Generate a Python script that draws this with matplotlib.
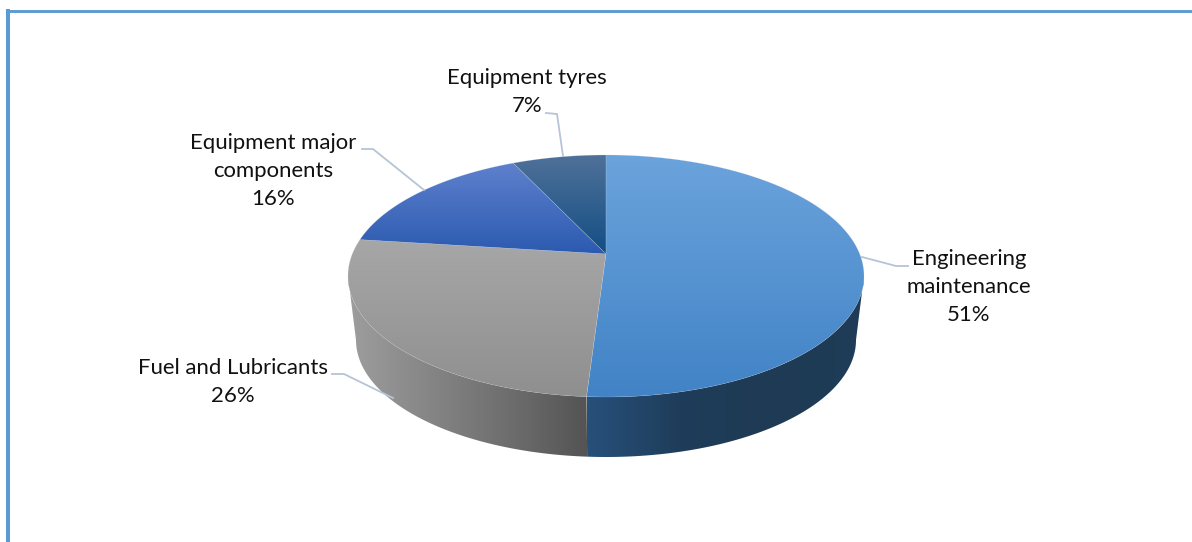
import numpy as np
import matplotlib
matplotlib.use("Agg")
import matplotlib.pyplot as plt
from matplotlib.colors import LinearSegmentedColormap
from matplotlib.patches import Polygon

categories = ["Engineering\nmaintenance", "Fuel and Lubricants", "Equipment major\ncomponents", "Equipment tyres"]
shares = [51, 26, 16, 7]
share_labels = ["51%", "26%", "16%", "7%"]

# Top-face gradients (upper edge, lower edge) and their vertical spans
top_colors = [("#6BA3DC", "#4183C6"), ("#A7A7A7", "#8F8F8F"), ("#5F82CE", "#2C5AB0"), ("#4F7199", "#134E84")]
top_spans = [(155, 397), (238, 397), (160, 254), (155, 254)]
# Wall gradients, running outwards from the rim split at the front
wall_right = ["#27507A", "#1F3D5A", "#1E3A54", "#1F3D58"]
wall_left = ["#545454", "#6E6E6E", "#868686", "#9E9E9E"]

label_xy = [(969, 287), (233, 382), (273, 171), (527, 92)]
leaders = [
    [(862, 257), (896, 266), (908, 266)],
    [(393, 398), (344, 374), (332, 374)],
    [(424, 190), (373, 149), (362, 149)],
    [(563, 156), (557, 114), (546, 113)],
]

# Perspective pie: rim ellipse, apex sitting above its centre, smaller rim below
CX, CY, RX, RY, APEX_Y = 606, 276, 258, 121, 254
BASE_CY, BASE_RX, BASE_RY = 340, 250, 117
PERSP = (2 * APEX_Y - (CY - RY) - (CY + RY)) / (CY + RY - (CY - RY))
SCALE_V = (CY - RY) * (PERSP * -1 + 1) * -1 + APEX_Y
SCALE_U = RX * np.sqrt(1 - PERSP ** 2)

plt.rcParams["font.family"] = ["Lato", "DejaVu Sans"]
fig = plt.figure(figsize=(11.92, 5.42), dpi=100, facecolor="white")
ax = fig.add_axes([0, 0, 1, 1])


def rim(a0, a1, n=240):
    # Projected circle; angles run clockwise from twelve o'clock
    t = np.radians(np.linspace(a0, a1, n))
    u, v = np.sin(t), -np.cos(t)
    w = 1 + PERSP * v
    return CX + SCALE_U * u / w, (SCALE_V * v + APEX_Y) / w


def base(x, y):
    return CX + (x - CX) * BASE_RX / RX, BASE_CY + (y - CY) * BASE_RY / RY


def gradient(colors, extent, clip, horizontal=False, zorder=2):
    cmap = LinearSegmentedColormap.from_list("g", colors)
    ramp = np.linspace(0, 1, 256)
    data = ramp[None, :] if horizontal else ramp[:, None]
    im = ax.imshow(data, cmap=cmap, extent=extent, origin="upper", aspect="auto",
                   interpolation="bilinear", zorder=zorder)
    patch = Polygon(clip, closed=True, transform=ax.transData, fc="none", ec="none")
    ax.add_patch(patch)
    im.set_clip_path(patch)


edges = np.cumsum([0] + shares) / sum(shares) * 360

# Widest point of the rim, where the visible wall begins and ends
v_side = (CY - APEX_Y) / (SCALE_V - PERSP * CY)
side = np.degrees(np.arccos(-v_side))

x_r, y_r = rim(side, edges[1])
xb, yb = base(x_r, y_r)
wall_r = np.r_[np.c_[x_r, y_r], np.c_[xb, yb][::-1]]
gradient(wall_right, (x_r.min(), x_r.max(), 460, CY), wall_r, horizontal=True)

x_l, y_l = rim(edges[1], 360 - side)
xb, yb = base(x_l, y_l)
wall_l = np.r_[np.c_[x_l, y_l], np.c_[xb, yb][::-1]]
gradient(wall_left, (x_l.max(), x_l.min(), 460, CY), wall_l, horizontal=True)

# Top face
for i in range(len(shares)):
    x, y = rim(edges[i], edges[i + 1])
    poly = np.r_[[[CX, APEX_Y]], np.c_[x, y]]
    y0, y1 = top_spans[i]
    gradient(top_colors[i], (CX - RX - 2, CX + RX + 2, y1, y0), poly, zorder=3)
    ax.add_patch(Polygon(poly, closed=True, fc="none", ec="#C8D4E4", lw=0.3, alpha=0.4, zorder=4))

# Leader lines and labels
for cat, pct, (lx, ly), path in zip(categories, share_labels, label_xy, leaders):
    px, py = zip(*path)
    ax.plot(px, py, color="#B5C4D6", lw=1.3, zorder=5, solid_joinstyle="round")
    ax.text(lx, ly, f"{cat}\n{pct}", ha="center", va="center", fontsize=15.9,
            color="#111111", linespacing=1.53, zorder=6)

# Frame drawn on the top and left only
ax.plot([8, 8], [542, 9], color="#5B9BD5", lw=2.9, solid_capstyle="butt", zorder=7)
ax.plot([6, 1192], [10.5, 10.5], color="#5B9BD5", lw=2.1, solid_capstyle="butt", zorder=7)

ax.set_xlim(0, 1192)
ax.set_ylim(542, 0)
ax.axis("off")
fig.savefig("out.png", dpi=100, facecolor="white")
